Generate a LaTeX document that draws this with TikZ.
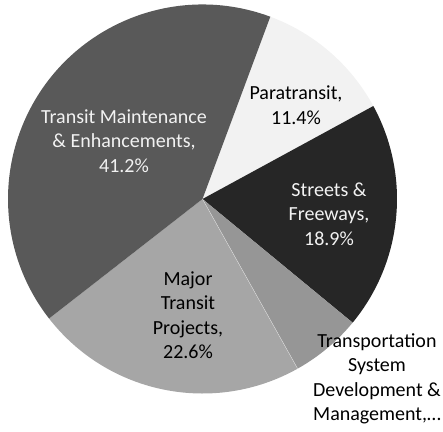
\documentclass[tikz,border=0pt]{standalone}
\usepackage{fontspec}
\setmainfont{Carlito}
\begin{document}
\begin{tikzpicture}[x=1pt,y=1pt,
  lbl/.style={align=center,font=\fontsize{20}{24.5}\selectfont,inner sep=0pt},
  dark/.style={lbl,text=cPT},
  light/.style={lbl,text=black}]
\definecolor{cTM}{HTML}{595959}
\definecolor{cPT}{HTML}{F2F2F2}
\definecolor{cSF}{HTML}{262626}
\definecolor{cTS}{HTML}{969696}
\definecolor{cMJ}{HTML}{A6A6A6}
\useasboundingbox (0,0) rectangle (443,431);
\def\R{194.5}
\coordinate (c) at (202.5,232);
\fill[cPT] (c) -- ++(28.56:\R) arc[start angle=28.56,end angle=69.6,radius=\R] -- cycle;
\fill[cSF] (c) -- ++(-39.48:\R) arc[start angle=-39.48,end angle=28.56,radius=\R] -- cycle;
\fill[cTS] (c) -- ++(-60.72:\R) arc[start angle=-60.72,end angle=-39.48,radius=\R] -- cycle;
\fill[cMJ] (c) -- ++(-142.08:\R) arc[start angle=-142.08,end angle=-60.72,radius=\R] -- cycle;
\fill[cTM] (c) -- ++(69.6:\R) arc[start angle=69.6,end angle=217.92,radius=\R] -- cycle;
\draw[white!70!cMJ,line width=0.3pt] (c) -- ++(-60.72:\R);
\node[dark] (tm) at (124,290) {Transit Maintenance\\\& Enhancements,\\41.2\%};
\node[light] (pt) at (296,326) {Paratransit,\\11.4\%};
\node[dark] (sf) at (329,217) {Streets \&\\Freeways,\\18.9\%};
\node[light] (mj) at (188,116) {Major\\Transit\\Projects,\\22.6\%};
\node[light] (ts) at (377,52) {Transportation\\System\\Development \&\\Management,…};
\end{tikzpicture}
\end{document}
